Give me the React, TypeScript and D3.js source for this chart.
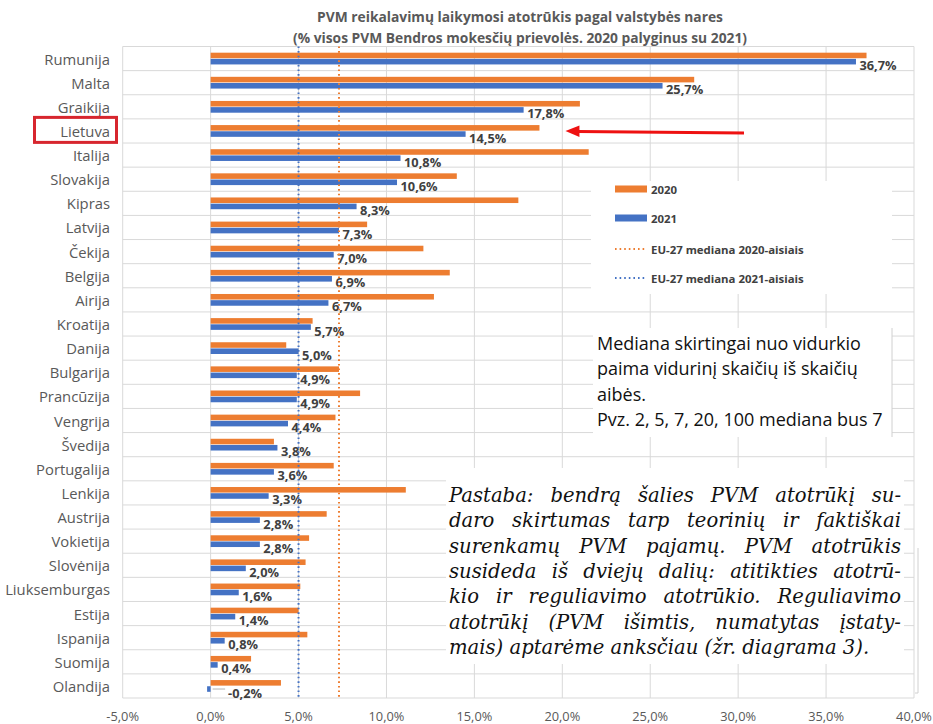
import React, { useRef, useEffect } from 'react';
import * as d3 from 'd3';

// VAT compliance gap by member state, % of VTTL
const countries = ['Rumunija', 'Malta', 'Graikija', 'Lietuva', 'Italija', 'Slovakija', 'Kipras', 'Latvija', 'Čekija', 'Belgija', 'Airija', 'Kroatija', 'Danija', 'Bulgarija', 'Prancūzija', 'Vengrija', 'Švedija', 'Portugalija', 'Lenkija', 'Austrija', 'Vokietija', 'Slovėnija', 'Liuksemburgas', 'Estija', 'Ispanija', 'Suomija', 'Olandija'];
const gap2020 = [37.3, 27.5, 21.0, 18.7, 21.5, 14.0, 17.5, 8.9, 12.1, 13.6, 12.7, 5.8, 4.3, 7.3, 8.5, 7.1, 3.6, 7.0, 11.1, 6.6, 5.6, 5.4, 5.1, 5.0, 5.5, 2.3, 4.0];
const gap2021 = [36.7, 25.7, 17.8, 14.5, 10.8, 10.6, 8.3, 7.3, 7.0, 6.9, 6.7, 5.7, 5.0, 4.9, 4.9, 4.4, 3.8, 3.6, 3.3, 2.8, 2.8, 2.0, 1.6, 1.4, 0.8, 0.4, -0.2];
const median2020 = 7.3;
const median2021 = 5.0;
const xTicks = [-5, 0, 5, 10, 15, 20, 25, 30, 35, 40];
const years = ['2020', '2021'];
const legendLabels = ['2020', '2021', 'EU-27 mediana 2020-aisiais', 'EU-27 mediana 2021-aisiais'];
const highlighted = 'Lietuva';

const titleLines = [
  'PVM reikalavimų laikymosi atotrūkis pagal valstybės nares',
  '(% visos PVM Bendros mokesčių prievolės. 2020 palyginus su 2021)',
];
const medianNote = [
  'Mediana skirtingai nuo vidurkio',
  'paima vidurinį skaičių iš skaičių',
  'aibės.',
  'Pvz. 2, 5, 7, 20, 100 mediana bus 7',
];
const remarkLines = [
  'Pastaba: bendrą šalies PVM atotrūkį su-',
  'daro skirtumas tarp teorinių ir faktiškai',
  'surenkamų PVM pajamų. PVM atotrūkis',
  'susideda iš dviejų dalių: atitikties atotrū-',
  'kio ir reguliavimo atotrūkio. Reguliavimo',
  'atotrūkį (PVM išimtis, numatytas įstaty-',
  'mais) aptarėme anksčiau (žr. diagrama 3).',
];

const ORANGE = '#ed7d31';
const BLUE = '#4472c4';
const GRID = '#d9d9d9';
const sans = '"Open Sans", sans-serif';

const App = () => {
  const noteRef = useRef<SVGGElement>(null);

  const W = 933, H = 724;
  const left = 122.7, right = 914, top = 46.5, bottom = 698;

  const x = d3.scaleLinear().domain([-5, 40]).range([left, right]);
  const y = d3.scaleBand().domain(countries).range([top, bottom]);
  const sub = d3.scaleBand().domain(years).range([0, y.bandwidth()]).paddingInner(0.1).paddingOuter(1);

  const fmt = (v: number) => v.toFixed(1).replace('.', ',') + '%';

  // justified italic remark, words spread with measured widths
  useEffect(() => {
    const g = d3.select(noteRef.current);
    g.selectAll('*').remove();
    const x0 = 449, x1 = 901, y0 = 502, lh = 25.3;
    remarkLines.forEach((line, i) => {
      const t = g.append('text')
        .attr('y', y0 + i * lh)
        .attr('font-family', '"DejaVu Serif", serif')
        .attr('font-style', 'italic')
        .attr('font-size', 19.6)
        .attr('fill', '#111');
      const words = line.split(' ');
      if (i === remarkLines.length - 1) {
        t.attr('x', x0).text(line);
        return;
      }
      const spans = words.map(w => t.append('tspan').text(w));
      const widths = spans.map(s => (s.node() as SVGTSpanElement).getComputedTextLength());
      const gap = (x1 - x0 - d3.sum(widths)) / (words.length - 1);
      let cx = x0;
      spans.forEach((s, j) => {
        s.attr('x', cx);
        cx += widths[j] + gap;
      });
    });
  }, []);

  const lit = y(highlighted)!;
  const litIdx = countries.indexOf(highlighted);

  return (
    <svg width={W} height={H} style={{ position: 'absolute', left: 0, top: 0, background: '#fff' }}>
      {/* title */}
      {titleLines.map((t, i) => (
        <text key={t} x={520} y={22 + i * 21} textAnchor="middle" fontFamily={sans} fontWeight="bold" fontSize={13.8} fill="#595959">{t}</text>
      ))}

      {/* gridlines */}
      {xTicks.map(t => (
        <line key={'v' + t} x1={x(t)} x2={x(t)} y1={top} y2={bottom} stroke={GRID} />
      ))}
      {countries.map(c => (
        <line key={'h' + c} x1={left} x2={right} y1={y(c)!} y2={y(c)!} stroke={GRID} />
      ))}
      <line x1={left} x2={right} y1={bottom} y2={bottom} stroke={GRID} />

      {/* bars */}
      {countries.map((c, i) => {
        const v0 = gap2020[i], v1 = gap2021[i];
        const by = y(c)!;
        return (
          <g key={c}>
            <rect x={x(Math.min(0, v0))} width={Math.abs(x(v0) - x(0))} y={by + sub('2020')!} height={sub.bandwidth()} fill={ORANGE} />
            <rect x={x(Math.min(0, v1))} width={Math.abs(x(v1) - x(0))} y={by + sub('2021')!} height={sub.bandwidth()} fill={BLUE} />
          </g>
        );
      })}

      {/* data labels 2021 */}
      {countries.map((c, i) => {
        const v = gap2021[i];
        const cy = y(c)! + sub('2021')! + sub.bandwidth() / 2 + 3.5;
        const lx = v < 0 ? x(0) + 17.5 : x(v) + 3.5;
        return (
          <g key={'l' + c}>
            {v < 0 && <line x1={x(0) + 2} x2={lx - 3} y1={cy - 3.5} y2={cy - 3.5} stroke="#bfbfbf" strokeWidth={1.2} />}
            <text x={lx} y={cy} dominantBaseline="central" fontFamily={sans} fontWeight="bold" fontSize={12.8} fill="#404040">{fmt(v)}</text>
          </g>
        );
      })}

      {/* medians */}
      <line x1={x(median2020)} x2={x(median2020)} y1={top} y2={bottom} stroke={ORANGE} strokeWidth={2} strokeDasharray="1.6 3" />
      <line x1={x(median2021)} x2={x(median2021)} y1={top} y2={bottom} stroke={BLUE} strokeWidth={2} strokeDasharray="1.6 3" />

      {/* category labels */}
      {countries.map(c => (
        <text key={'c' + c} x={110} y={y(c)! + y.bandwidth() / 2} dominantBaseline="central" textAnchor="end" fontFamily={sans} fontSize={14.8} fill="#595959">{c}</text>
      ))}
      <rect x={34.5} y={lit - 1.5} width={82} height={25} fill="none" stroke="#d7262e" strokeWidth={3} />

      {/* x axis */}
      {xTicks.map(t => (
        <text key={'t' + t} x={x(t)} y={715.5} dominantBaseline="central" textAnchor="middle" fontFamily={sans} fontSize={12.8} fill="#595959">{fmt(t)}</text>
      ))}

      {/* arrow to Lietuva */}
      <line x1={744} y1={lit + 14} x2={x(gap2020[litIdx]) + 38} y2={lit + 12.5} stroke="#ee1111" strokeWidth={3} />
      <polygon
        points={`${x(gap2020[litIdx]) + 26},${lit + 12} ${x(gap2020[litIdx]) + 40},${lit + 6.5} ${x(gap2020[litIdx]) + 40},${lit + 18}`}
        fill="#ee1111"
      />

      {/* legend */}
      <rect x={591} y={181} width={301} height={113} fill="#fff" />
      {legendLabels.map((l, i) => {
        const ly = [189, 218, 249, 278][i];
        return (
          <g key={l}>
            {i < 2
              ? <rect x={615} y={ly - 3.5} width={32} height={7} fill={i === 0 ? ORANGE : BLUE} />
              : <line x1={615} x2={647} y1={ly} y2={ly} stroke={i === 2 ? ORANGE : BLUE} strokeWidth={2} strokeDasharray="1.6 3" />}
            <text x={651} y={ly} dominantBaseline="central" fontFamily={sans} fontWeight="bold" fontSize={11.4} fill="#404040">{l}</text>
          </g>
        );
      })}

      {/* median note */}
      <rect x={593} y={328} width={299} height={109} fill="#fff" />
      <line x1={892} x2={892} y1={328} y2={437} stroke="#d0d0d0" />
      {medianNote.map((t, i) => (
        <text key={t} x={597} y={350 + i * 25.4} fontFamily={sans} fontSize={18} fill="#111">{t}</text>
      ))}

      {/* remark */}
      <rect x={446} y={468} width={458} height={196} fill="#fff" />
      <polyline points="918,548 918,693 915,693" fill="none" stroke="#d0d0d0" />
      <g ref={noteRef} />
    </svg>
  );
};

export default App;
